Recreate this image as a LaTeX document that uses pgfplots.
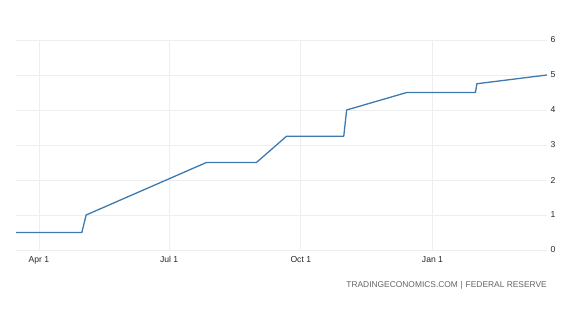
\documentclass[border=0pt]{standalone}
\usepackage{pgfplots}
\pgfplotsset{compat=1.18}
\usepackage{fontspec}
\setmainfont{Liberation Sans}
\definecolor{lineblue}{RGB}{62,122,176}
\definecolor{gridgray}{RGB}{238,238,238}
\definecolor{srcgray}{RGB}{100,100,100}
\begin{document}
\begin{tikzpicture}[x=1pt,y=1pt]
\useasboundingbox (0,0) rectangle (587,313);
\begin{axis}[
  at={(16pt,63pt)}, anchor=south west,
  width=531pt, height=210pt, scale only axis,
  xmin=74, xmax=445, ymin=0, ymax=6,
  axis line style={draw=none},
  major tick length=0pt,
  xtick={90,181,273,365},
  xticklabels={Apr 1,Jul 1,Oct 1,Jan 1},
  ytick={0,1,2,3,4,5,6},
  yticklabel pos=right,
  grid=major,
  grid style={gridgray, line width=0.8pt},
  tick label style={font=\fontsize{8.6}{10}\selectfont, text=black!85},
  /pgf/number format/assume math mode=true,
  yticklabel style={anchor=west, xshift=0pt},
  xticklabel style={yshift=-3pt},
  clip=false,
]
\addplot[lineblue, line width=1.3pt, line join=round] coordinates {
  (74,0.5) (120,0.5) (123,1.0) (165,1.75) (207,2.5) (242,2.5)
  (263,3.25) (303,3.25) (305,4.0) (347,4.5) (395,4.5) (396,4.75) (445,5.0)
};
\end{axis}
\node[anchor=east, text=srcgray, font=\fontsize{8.4}{10}\selectfont, inner sep=0pt] at (547,28) {TRADINGECONOMICS.COM\,\,|\,\,FEDERAL RESERVE};
\end{tikzpicture}
\end{document}
